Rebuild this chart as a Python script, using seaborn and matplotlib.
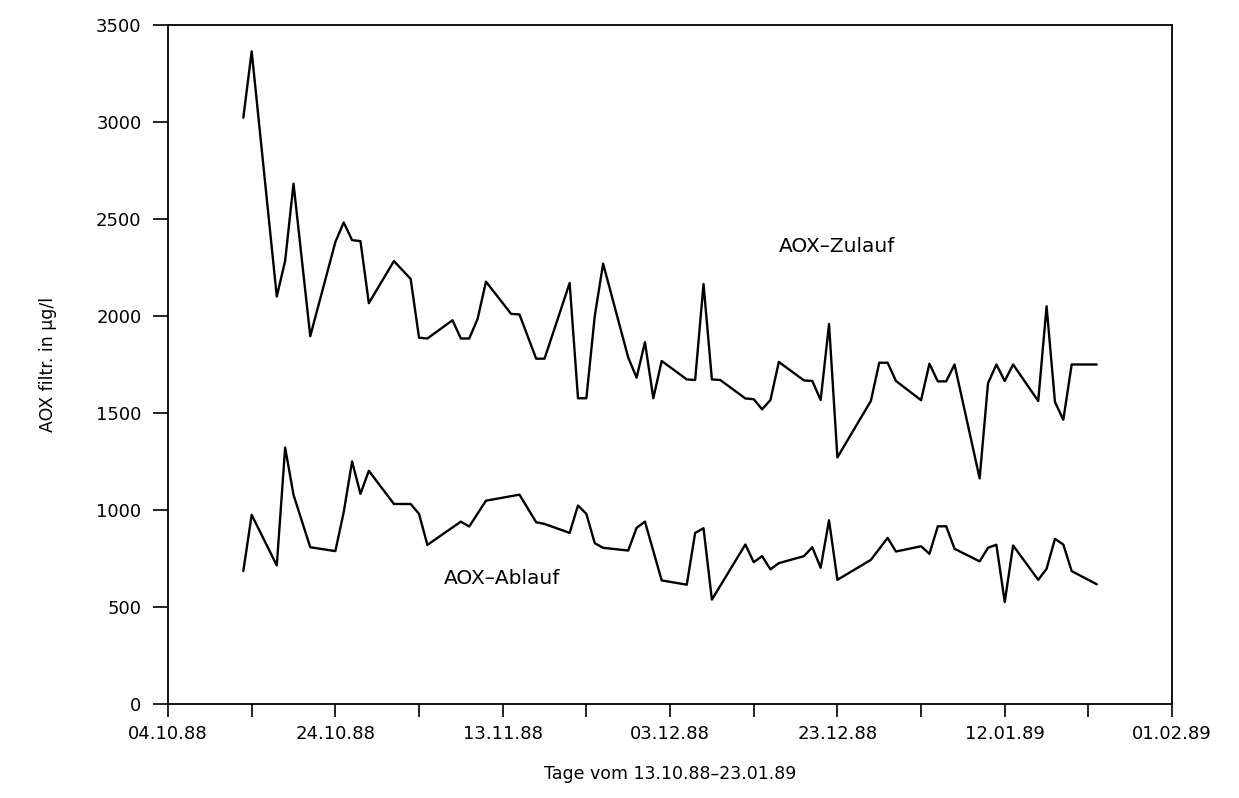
import matplotlib
matplotlib.use("Agg")
import matplotlib.pyplot as plt
import pandas as pd
import seaborn as sns

# --- data ---
zulauf_dates = ["13.10.88", "14.10.88", "17.10.88", "18.10.88", "19.10.88", "21.10.88",
                "24.10.88", "25.10.88", "26.10.88", "27.10.88", "28.10.88", "31.10.88",
                "02.11.88", "03.11.88", "04.11.88", "07.11.88", "08.11.88", "09.11.88",
                "10.11.88", "11.11.88", "14.11.88", "15.11.88", "17.11.88", "18.11.88",
                "21.11.88", "22.11.88", "23.11.88", "24.11.88", "25.11.88", "28.11.88",
                "29.11.88", "30.11.88", "01.12.88", "02.12.88", "05.12.88", "06.12.88",
                "07.12.88", "08.12.88", "09.12.88", "12.12.88", "13.12.88", "14.12.88",
                "15.12.88", "16.12.88", "19.12.88", "20.12.88", "21.12.88", "22.12.88",
                "23.12.88", "27.12.88", "28.12.88", "29.12.88", "30.12.88", "02.01.89",
                "03.01.89", "04.01.89", "05.01.89", "06.01.89", "09.01.89", "10.01.89",
                "11.01.89", "12.01.89", "13.01.89", "16.01.89", "17.01.89", "18.01.89",
                "19.01.89", "20.01.89", "23.01.89"]
zulauf_values = [3022, 3364, 2100, 2285, 2682, 1896,
                 2381, 2482, 2391, 2386, 2066, 2283,
                 2191, 1888, 1884, 1978, 1884, 1884,
                 1985, 2177, 2011, 2008, 1780, 1780,
                 2170, 1576, 1576, 1999, 2270, 1786,
                 1682, 1865, 1576, 1768, 1673, 1670,
                 2165, 1673, 1670, 1575, 1571, 1519,
                 1567, 1763, 1668, 1665, 1567, 1959,
                 1271, 1562, 1759, 1759, 1665, 1566,
                 1754, 1663, 1663, 1750, 1163, 1653,
                 1750, 1665, 1750, 1562, 2050, 1557,
                 1465, 1750, 1750]

ablauf_dates = ["13.10.88", "14.10.88", "17.10.88", "18.10.88", "19.10.88", "21.10.88",
                "24.10.88", "25.10.88", "26.10.88", "27.10.88", "28.10.88", "31.10.88",
                "02.11.88", "03.11.88", "04.11.88", "08.11.88", "09.11.88", "11.11.88",
                "15.11.88", "17.11.88", "18.11.88", "21.11.88", "22.11.88", "23.11.88",
                "24.11.88", "25.11.88", "28.11.88", "29.11.88", "30.11.88", "02.12.88",
                "05.12.88", "06.12.88", "07.12.88", "08.12.88", "12.12.88", "13.12.88",
                "14.12.88", "15.12.88", "16.12.88", "19.12.88", "20.12.88", "21.12.88",
                "22.12.88", "23.12.88", "27.12.88", "29.12.88", "30.12.88", "02.01.89",
                "03.01.89", "04.01.89", "05.01.89", "06.01.89", "09.01.89", "10.01.89",
                "11.01.89", "12.01.89", "13.01.89", "16.01.89", "17.01.89", "18.01.89",
                "19.01.89", "20.01.89", "23.01.89"]
ablauf_values = [685, 975, 714, 1322, 1078, 808,
                 788, 989, 1250, 1083, 1202, 1031,
                 1031, 980, 820, 940, 915, 1048,
                 1079, 937, 928, 882, 1023, 980,
                 829, 805, 791, 908, 940, 637,
                 615, 882, 906, 538, 822, 731,
                 762, 694, 726, 762, 808, 702,
                 947, 640, 743, 856, 786, 813,
                 774, 916, 916, 800, 735, 805,
                 821, 526, 817, 640, 697, 851,
                 822, 685, 617]

x_tick_dates = ["04.10.88", "14.10.88", "24.10.88", "03.11.88", "13.11.88", "23.11.88",
                "03.12.88", "13.12.88", "23.12.88", "02.01.89", "12.01.89", "22.01.89",
                "01.02.89"]
x_tick_labels = ["04.10.88", "", "24.10.88", "", "13.11.88", "", "03.12.88", "",
                 "23.12.88", "", "12.01.89", "", "01.02.89"]
y_ticks = [0, 500, 1000, 1500, 2000, 2500, 3000, 3500]

series_names = ["AOX\u2013Zulauf", "AOX\u2013Ablauf"]
x_label = "Tage vom 13.10.88\u201323.01.89"
y_label = "AOX filtr. in \u00b5g/l"

# --- build frame ---
fmt = "%d.%m.%y"
df = pd.concat([
    pd.DataFrame({"Datum": pd.to_datetime(zulauf_dates, format=fmt),
                  "AOX": zulauf_values, "Serie": series_names[0]}),
    pd.DataFrame({"Datum": pd.to_datetime(ablauf_dates, format=fmt),
                  "AOX": ablauf_values, "Serie": series_names[1]}),
], ignore_index=True)

sns.set_style("ticks")
plt.rcParams["font.family"] = ["DejaVu Sans"]
plt.rcParams["text.color"] = "black"
plt.rcParams["axes.labelcolor"] = "black"
plt.rcParams["xtick.color"] = "black"
plt.rcParams["ytick.color"] = "black"

fig = plt.figure(figsize=(12.39, 7.98), dpi=100)
ax = fig.add_axes([0.1356, 0.1178, 0.8104, 0.8509])

sns.lineplot(data=df, x="Datum", y="AOX", units="Serie", estimator=None,
             color="black", linewidth=1.7, ax=ax, legend=False, sort=False)

xt = pd.to_datetime(x_tick_dates, format=fmt)
ax.set_xlim(xt[0], xt[-1])
ax.set_ylim(0, 3500)
ax.set_xticks(xt)
ax.set_xticklabels(x_tick_labels)
ax.set_yticks(y_ticks)
ax.set_yticklabels([str(v) for v in y_ticks])

for s in ax.spines.values():
    s.set_linewidth(1.3)
    s.set_color("black")
ax.tick_params(axis="x", direction="out", length=9, width=1.2, labelsize=13, pad=6)
ax.tick_params(axis="y", direction="out", length=11, width=1.2, labelsize=13, pad=8)

ax.set_xlabel(x_label, fontsize=12.5, labelpad=16)
ax.set_ylabel(y_label, fontsize=12.5, labelpad=28)

ax.text(pd.Timestamp("1988-12-16"), 2360, series_names[0], fontsize=14.5,
        ha="left", va="center")
ax.text(pd.Timestamp("1988-11-06"), 647, series_names[1], fontsize=14.5,
        ha="left", va="center")

fig.savefig("out.png", dpi=100, facecolor="white")
